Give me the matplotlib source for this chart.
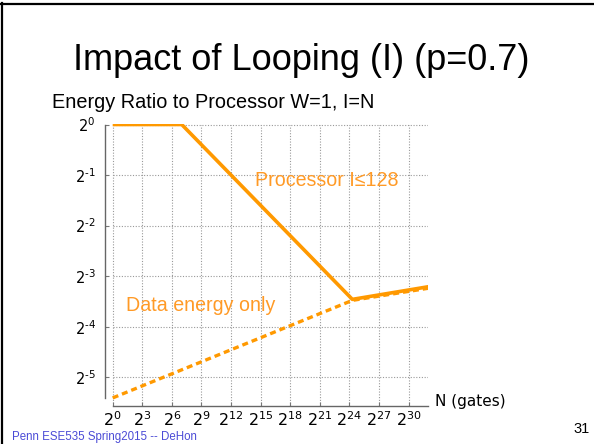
import numpy as np
import matplotlib.pyplot as plt
from matplotlib.lines import Line2D

# log2 of N (gates) and of energy ratio
proc_x = [0, 7, 24.3, 32]
proc_y = [0, 0, -3.46, -3.21]
data_x = [0, 24.3, 32]
data_y = [-5.41, -3.48, -3.24]

xtick_exp = list(range(0, 31, 3))
ytick_exp = [0, -1, -2, -3, -4, -5]

orange = '#ff9900'
W, H = 594, 444


def fx(px):
    return px / W


def fy(py):
    return 1 - py / H


def pow2_label(e):
    # slide shows a short hyphen, not a long minus sign
    if e < 0:
        return rf'$2^{{\text{{-}}{-e}}}$'
    return rf'$2^{{{e}}}$'


fig = plt.figure(figsize=(W / 100, H / 100), dpi=100)
ax = fig.add_axes([fx(105.3), fy(406), fx(428.3) - fx(105.3), fy(124) - fy(406)])
ax.set_xscale('log', base=2)
ax.set_yscale('log', base=2)
ax.set_xlim(2 ** -0.75, 2 ** 32)
ax.set_ylim(2 ** -5.57, 2 ** 0.01)

# dotted grid, drawn from 2^0 rightwards like the original
gx = [2.0 ** e for e in xtick_exp]
gy = [2.0 ** e for e in ytick_exp]
ax.vlines(gx, 2 ** -5.57, 1, colors='#999999', linestyles=(0, (1, 1.5)), linewidth=0.8, zorder=1)
ax.hlines(gy, 1, 2 ** 32, colors='#999999', linestyles=(0, (1, 1.5)), linewidth=0.8, zorder=1)

ax.plot([2.0 ** e for e in data_x], [2.0 ** e for e in data_y], color=orange,
        linewidth=2.4, linestyle=(0, (1.8, 1.2)), zorder=3)
ax.plot([2.0 ** e for e in proc_x], [2.0 ** e for e in proc_y], color=orange,
        linewidth=2.6, solid_capstyle='butt', zorder=4)

ax.set_xticks(gx)
ax.set_xticklabels([pow2_label(e) for e in xtick_exp], fontsize=11.5)
ax.set_yticks(gy)
ax.set_yticklabels([pow2_label(e) for e in ytick_exp], fontsize=10.5)
ax.minorticks_off()
ax.tick_params(axis='both', direction='in', length=3, color='#777777', width=0.8)
ax.tick_params(axis='x', pad=3)
ax.tick_params(axis='y', pad=7)

for s in ['top', 'right']:
    ax.spines[s].set_visible(False)
ax.spines['left'].set_bounds(2 ** -5.41, 1)
ax.spines['bottom'].set_bounds(1, 2 ** 32)
for s in ['left', 'bottom']:
    ax.spines[s].set_color('#666666')
    ax.spines[s].set_linewidth(1.0)

sans = ['Liberation Sans', 'DejaVu Sans']
ax.text(2 ** 14.4, 2 ** -1.21, 'Processor I≤128', color='#ff9a26', fontsize=14.1,
        family=sans, va='baseline', ha='left', zorder=5)
ax.text(2 ** 1.35, 2 ** -3.70, 'Data energy only', color='#ff9a26', fontsize=14.1,
        family=sans, va='baseline', ha='left', zorder=5)

fig.text(fx(301), fy(70), 'Impact of Looping (I) (p=0.7)', fontsize=26, family=sans,
         ha='center', va='baseline')
fig.text(fx(51.7), fy(108.3), 'Energy Ratio to Processor W=1, I=N', fontsize=14.3,
         family=sans, ha='left', va='baseline')
fig.text(fx(435), fy(406), 'N (gates)', fontsize=11, ha='left', va='baseline')
fig.text(fx(590), fy(433), '31', fontsize=10.5, family=sans, ha='right', va='baseline')
fig.text(fx(12), fy(440), 'Penn ESE535 Spring2015 -- DeHon', fontsize=8.3, family=sans,
         color='#4b4bd6', ha='left', va='baseline')

# slide frame, top and left edges
fig.add_artist(Line2D([0, 1], [fy(4), fy(4)], color='black', linewidth=1.6))
fig.add_artist(Line2D([fx(2), fx(2)], [0, fy(3)], color='black', linewidth=1.6))

fig.savefig('out.png', dpi=100)
